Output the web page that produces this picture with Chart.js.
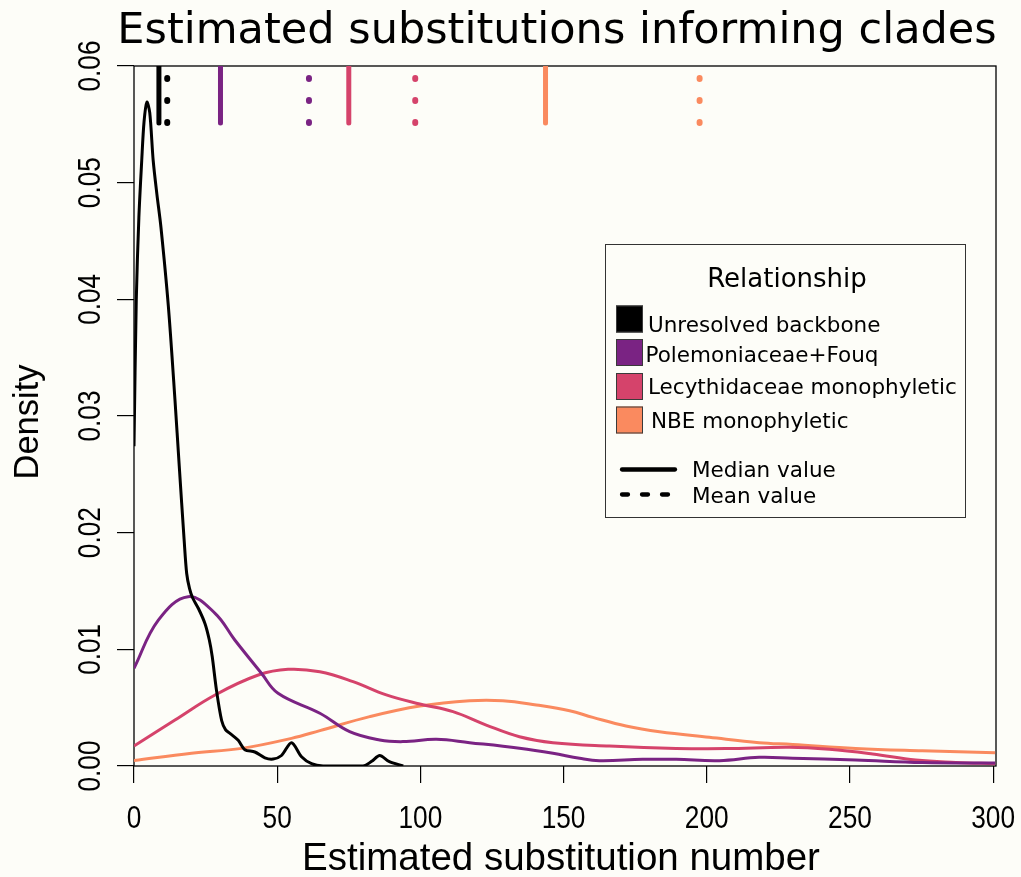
<!DOCTYPE html>
<html>
<head>
<meta charset="utf-8">
<script src="https://cdn.jsdelivr.net/npm/chart.js@4/dist/chart.umd.min.js"></script>
<style>
  html, body { margin: 0; padding: 0; background: #fdfdf8; }
  canvas { display: block; }
</style>
</head>
<body>
<canvas id="c" width="1021" height="877"></canvas>
<script>
// Kernel density estimates of substitution counts, one per relationship
const backboneX = [0, 0.8, 1.7, 2.7, 3.5, 4.5, 5.5, 6.7, 8, 9.4, 12, 14.3, 15.8, 17.5, 18.4, 19.4, 20.5, 22.5, 24.8, 26.3, 27.3, 28.8, 30.6, 32, 33.5, 36.4, 38.7, 42.2, 45.7, 48.6, 51.5, 55, 58.5, 62, 66, 80, 83, 85.8, 89, 94];
const backboneY = [0.0274, 0.040, 0.047, 0.0519, 0.0552, 0.0569, 0.0560, 0.0519, 0.0490, 0.0462, 0.0394, 0.0314, 0.0257, 0.0194, 0.0165, 0.0152, 0.0144, 0.0135, 0.0122, 0.0108, 0.0094, 0.0065, 0.0039, 0.0031, 0.0028, 0.0022, 0.0014, 0.0012, 0.0007, 0.0006, 0.0009, 0.0020, 0.0008, 0.0002, 0, 0, 0.0004, 0.0009, 0.0004, 0];

const polemX = [0, 8.5, 18.9, 28.3, 35.2, 44.5, 50.3, 64.9, 75.3, 85.8, 93.9, 105.6, 117.2, 134.6, 146.3, 155.6, 162.5, 177.6, 189.3, 204.4, 218.3, 230, 252, 275.3, 300.7];
const polemY = [0.00837, 0.0125, 0.01451, 0.01309, 0.0108, 0.00795, 0.00623, 0.00452, 0.00294, 0.00223, 0.00209, 0.00229, 0.002, 0.00152, 0.00109, 0.00066, 0.00046, 0.00057, 0.00057, 0.00046, 0.00074, 0.00066, 0.00051, 0.00029, 0.00025];

const lecyX = [0, 14.3, 28.3, 43.4, 53.8, 64.9, 76.5, 88.1, 99.8, 111.4, 123, 134.6, 146.3, 166, 189.3, 206.7, 228.8, 242.8, 257.9, 273, 287, 300.7];
const lecyY = [0.00171, 0.00394, 0.00609, 0.0078, 0.00829, 0.00808, 0.00723, 0.00609, 0.00531, 0.00466, 0.00351, 0.00251, 0.002, 0.00171, 0.00151, 0.00149, 0.0016, 0.00143, 0.00103, 0.00051, 0.00031, 0.0002];

const nbeX = [0, 20.1, 37.6, 55, 64.9, 82.3, 99.8, 117.2, 128.8, 140.5, 152.1, 160.2, 171.8, 183.5, 200.9, 218.3, 230, 252, 275.3, 300.7];
const nbeY = [0.00046, 0.00109, 0.00151, 0.00237, 0.00303, 0.00423, 0.00514, 0.0056, 0.0056, 0.00523, 0.00474, 0.00417, 0.00343, 0.00294, 0.00246, 0.002, 0.00185, 0.00151, 0.00131, 0.00114];

// Median and mean substitution number per relationship
const medianValues = [8.7, 30.2, 75.0, 143.7];
const meanValues = [11.6, 61.1, 98.2, 197.5];

const seriesNames = ['Unresolved backbone', 'Polemoniaceae+Fouq', 'Lecythidaceae monophyletic', 'NBE monophyletic'];
const seriesColors = ['#000000', '#7a2383', '#d5436b', '#fa8a5f'];

const xTickValues = [0, 50, 100, 150, 200, 250, 300];
const xTickLabels = ['0', '50', '100', '150', '200', '250', '300'];
const yTickValues = [0, 0.01, 0.02, 0.03, 0.04, 0.05, 0.06];
const yTickLabels = ['0.00', '0.01', '0.02', '0.03', '0.04', '0.05', '0.06'];

const BG = '#fdfdf8';
const WIDE = "'DejaVu Sans', Verdana, sans-serif";
const HELV = "'Liberation Sans', Arial, Helvetica, sans-serif";

const pairs = (xs, ys) => xs.map((x, i) => ({ x: x, y: ys[i] }));
const curveX = [backboneX, polemX, lecyX, nbeX];
const curveY = [backboneY, polemY, lecyY, nbeY];

const datasets = [];
// density curves
for (let i = 0; i < 4; i++) {
  datasets.push({
    data: pairs(curveX[i], curveY[i]),
    borderColor: seriesColors[i],
    borderWidth: 3,
    pointRadius: 0,
    tension: i === 0 ? 0.3 : 0.4,
    fill: false,
    order: 10 + (i === 0 ? -1 : i)
  });
}
// median (solid) and mean (dotted) markers along the top
const markClip = { left: 10, right: 10, top: 0, bottom: 10 };
for (let i = 0; i < 4; i++) {
  datasets.push({
    data: [{ x: medianValues[i], y: 0.05511 }, { x: medianValues[i], y: 0.0606 }],
    borderColor: seriesColors[i],
    borderWidth: 5,
    borderCapStyle: 'round',
    pointRadius: 0,
    clip: markClip,
    order: 1
  });
  datasets.push({
    data: [{ x: meanValues[i], y: 0.05511 }, { x: meanValues[i], y: 0.0625 }],
    borderColor: seriesColors[i],
    borderWidth: 6,
    borderCapStyle: 'round',
    borderDash: [1, 21],
    pointRadius: 0,
    clip: markClip,
    order: 1
  });
}

// condensed sans text helper (horizontal squeeze along the text direction)
function narrowText(ctx, text, x, y, squeeze) {
  ctx.save();
  ctx.translate(x, y);
  ctx.scale(squeeze, 1);
  ctx.fillText(text, 0, 0);
  ctx.restore();
}

const decor = {
  id: 'decor',
  beforeDraw(chart) {
    const ctx = chart.ctx;
    ctx.save();
    ctx.fillStyle = BG;
    ctx.fillRect(0, 0, chart.width, chart.height);
    ctx.restore();
  },
  beforeDatasetsDraw(chart) {
    const ctx = chart.ctx;
    const a = chart.chartArea;
    ctx.save();
    ctx.strokeStyle = '#000';
    ctx.lineWidth = 1.3;
    ctx.strokeRect(a.left, a.top, a.right - a.left, a.bottom - a.top);
    ctx.restore();
  },
  afterDraw(chart) {
    const ctx = chart.ctx;
    const xs = chart.scales.x, ys = chart.scales.y;
    ctx.save();
    ctx.fillStyle = '#000';

    // title
    ctx.font = '43px ' + WIDE;
    ctx.textAlign = 'center';
    ctx.textBaseline = 'alphabetic';
    ctx.fillText('Estimated substitutions informing clades', 557, 43);

    // x tick labels
    ctx.font = '32px ' + HELV;
    xTickValues.forEach((v, i) => {
      narrowText(ctx, xTickLabels[i], xs.getPixelForValue(v), 828, 0.82);
    });

    // y tick labels, rotated
    yTickValues.forEach((v, i) => {
      ctx.save();
      ctx.translate(100, ys.getPixelForValue(v));
      ctx.rotate(-Math.PI / 2);
      ctx.scale(0.82, 1);
      ctx.fillText(yTickLabels[i], 0, 0);
      ctx.restore();
    });

    // axis titles
    ctx.font = '38.5px ' + HELV;
    ctx.fillText('Estimated substitution number', 561, 870);
    ctx.save();
    ctx.translate(38, 422);
    ctx.rotate(-Math.PI / 2);
    ctx.font = '34.5px ' + HELV;
    ctx.fillText('Density', 0, 0);
    ctx.restore();

    // legend
    ctx.fillStyle = BG;
    ctx.fillRect(605, 244, 361, 274);
    ctx.strokeStyle = '#333';
    ctx.lineWidth = 1;
    ctx.strokeRect(605.5, 244.5, 360, 273);
    ctx.fillStyle = '#000';
    ctx.font = '26px ' + WIDE;
    ctx.textAlign = 'center';
    ctx.fillText('Relationship', 787, 287);

    ctx.textAlign = 'left';
    ctx.font = '21.5px ' + WIDE;
    const boxTop = [305.5, 339, 373, 406.5];
    const baseY = [331.5, 361.5, 393.5, 427.5];
    const textX = [648, 645.5, 648, 651];
    for (let i = 0; i < 4; i++) {
      ctx.fillStyle = seriesColors[i];
      ctx.fillRect(616, boxTop[i], 27, 27);
      ctx.strokeStyle = '#3a3a3a';
      ctx.lineWidth = 1;
      ctx.strokeRect(616.5, boxTop[i] + 0.5, 26, 26);
      ctx.fillStyle = '#000';
      ctx.fillText(seriesNames[i], textX[i], baseY[i]);
    }

    ctx.strokeStyle = '#000';
    ctx.lineCap = 'round';
    ctx.lineWidth = 4.3;
    ctx.beginPath();
    ctx.moveTo(622, 469.5);
    ctx.lineTo(675, 469.5);
    ctx.stroke();
    ctx.setLineDash([6, 14]);
    ctx.beginPath();
    ctx.moveTo(622, 494.5);
    ctx.lineTo(671, 494.5);
    ctx.stroke();
    ctx.setLineDash([]);
    ctx.fillText('Median value', 692, 477);
    ctx.fillText('Mean value', 692, 503);
    ctx.restore();
  }
};

new Chart(document.getElementById('c'), {
  type: 'line',
  data: { datasets: datasets },
  options: {
    responsive: false,
    animation: false,
    devicePixelRatio: 1,
    layout: { padding: { top: 66, right: 25, left: 0, bottom: 0 } },
    plugins: { legend: { display: false }, tooltip: { enabled: false }, title: { display: false } },
    scales: {
      x: {
        type: 'linear',
        min: 0,
        max: 301,
        afterBuildTicks(scale) { scale.ticks = xTickValues.map(v => ({ value: v })); },
        afterFit(scale) { scale.height = 111; },
        ticks: { display: false },
        grid: { drawOnChartArea: false, drawTicks: true, tickLength: 17, color: '#000', lineWidth: 1.2 },
        border: { display: false }
      },
      y: {
        type: 'linear',
        min: 0,
        max: 0.06,
        afterBuildTicks(scale) { scale.ticks = yTickValues.map(v => ({ value: v })); },
        afterFit(scale) { scale.width = 134; },
        ticks: { display: false },
        grid: { drawOnChartArea: false, drawTicks: true, tickLength: 17, color: '#000', lineWidth: 1.2 },
        border: { display: false }
      }
    }
  },
  plugins: [decor]
});
</script>
</body>
</html>
